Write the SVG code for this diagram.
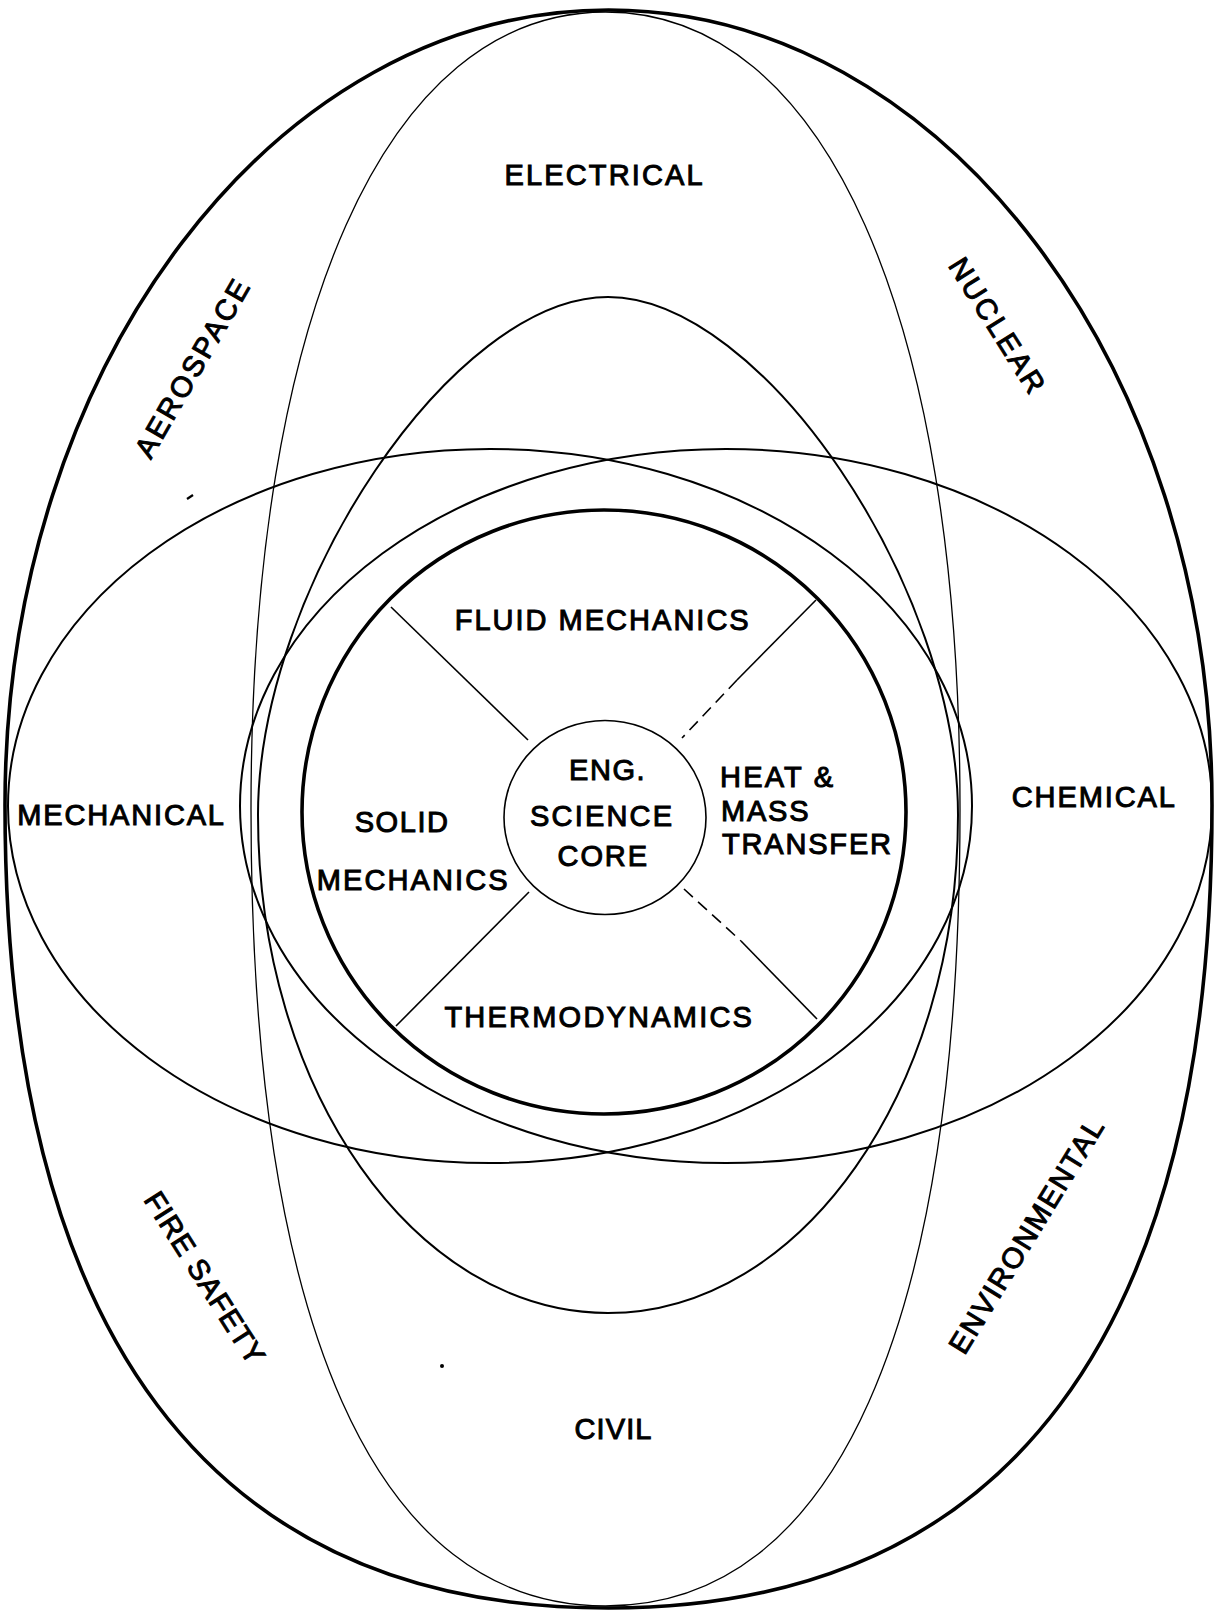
<svg xmlns="http://www.w3.org/2000/svg" width="1215" height="1612" viewBox="0 0 1215 1612">
<style>
  .thick{fill:none;stroke:#000;stroke-width:3.6}
  .mid{fill:none;stroke:#000;stroke-width:2}
  .thin{fill:none;stroke:#000;stroke-width:1.3}
  .div{fill:none;stroke:#000;stroke-width:1.6}
  text{font-family:"Liberation Sans",Arial,Helvetica,sans-serif;font-size:29px;fill:#000;stroke:#000;stroke-width:1}
  .c{text-anchor:middle}
  .s{text-anchor:start}
</style>
<rect width="1215" height="1612" fill="#fff"/>
<g id="outer-aerospace-nuclear-firesafety-environmental">
  <path class="thick" d="M5,805 C5,366 275.2,10 608.5,10 C941.8,10 1212,366 1212,805 C1212,1335 1006.8,1608 608.5,1608 C210.2,1608 5,1335 5,805 Z"/>
  <text class="c" transform="translate(191.7,368.3) rotate(-60)" x="0" y="10.5" textLength="200" lengthAdjust="spacing">AEROSPACE</text>
  <text class="c" transform="translate(997.5,325) rotate(57.7)" x="0" y="10.5" textLength="154" lengthAdjust="spacing">NUCLEAR</text>
  <text class="c" transform="translate(205,1277.5) rotate(57.5)" x="0" y="10.5" textLength="198" lengthAdjust="spacing">FIRE SAFETY</text>
  <text class="c" transform="translate(1025.8,1235.8) rotate(-58.5)" x="0" y="10.5" textLength="269" lengthAdjust="spacing">ENVIRONMENTAL</text>
</g>
<g id="electrical-civil">
  <path class="thin" d="M251,809 C251,315 386.1,12 605.5,12 C824.9,12 960,315 960,809 C960,1327 835.3,1606 605.5,1606 C375.7,1606 251,1327 251,809 Z"/>
  <text class="c" x="603.6" y="185" textLength="198" lengthAdjust="spacing">ELECTRICAL</text>
  <text class="c" x="613" y="1439" textLength="77" lengthAdjust="spacing">CIVIL</text>
</g>
<g id="inner-vertical">
  <path class="mid" d="M258,815 C258,587 454,297 608,297 C762,297 958,587 958,815 C958,1090 801.3,1313 608,1313 C414.7,1313 258,1090 258,815 Z"/>
</g>
<g id="mechanical">
  <ellipse class="mid" cx="490" cy="806" rx="482" ry="357"/>
  <text class="s" x="17.3" y="825" textLength="206.7" lengthAdjust="spacing">MECHANICAL</text>
</g>
<g id="chemical">
  <ellipse class="mid" cx="726" cy="806" rx="486" ry="357"/>
  <text class="s" x="1011.7" y="807" textLength="163.3" lengthAdjust="spacing">CHEMICAL</text>
</g>
<g id="engineering-sciences">
  <circle class="thick" cx="604" cy="812" r="302"/>
  <text class="c" x="601.7" y="630" textLength="294" lengthAdjust="spacing">FLUID MECHANICS</text>
  <text class="s" x="720" y="787" textLength="113" lengthAdjust="spacing">HEAT &amp;</text>
  <text class="s" x="721" y="821" textLength="87.6" lengthAdjust="spacing">MASS</text>
  <text class="s" x="722" y="853.5" textLength="169" lengthAdjust="spacing">TRANSFER</text>
  <text class="s" x="354.7" y="832" textLength="93.3" lengthAdjust="spacing">SOLID</text>
  <text class="s" x="316.7" y="890" textLength="191" lengthAdjust="spacing">MECHANICS</text>
  <text class="c" x="598.2" y="1027" textLength="307.5" lengthAdjust="spacing">THERMODYNAMICS</text>
</g>
<g id="core">
  <ellipse class="div" cx="605" cy="817.5" rx="101" ry="97"/>
  <text class="c" x="606.8" y="780" textLength="75.5" lengthAdjust="spacing">ENG.</text>
  <text class="c" x="601" y="826" textLength="142" lengthAdjust="spacing">SCIENCE</text>
  <text class="c" x="602.3" y="865.7" textLength="89.5" lengthAdjust="spacing">CORE</text>
</g>
<g id="connectors">
  <line class="div" x1="391" y1="607" x2="528" y2="740"/>
  <line class="div" x1="816" y1="600" x2="737" y2="680"/>
  <line class="div" x1="737" y1="680" x2="682" y2="738" stroke-dasharray="12 7"/>
  <line class="div" x1="529" y1="892" x2="396" y2="1026"/>
  <line class="div" x1="684" y1="889" x2="741" y2="941" stroke-dasharray="12 7"/>
  <line class="div" x1="741" y1="941" x2="817" y2="1019"/>
</g>
<g id="specks">
  <line x1="187" y1="499" x2="193" y2="495" stroke="#000" stroke-width="2.2"/>
  <circle cx="442" cy="1366" r="2" fill="#000"/>
</g>
</svg>
